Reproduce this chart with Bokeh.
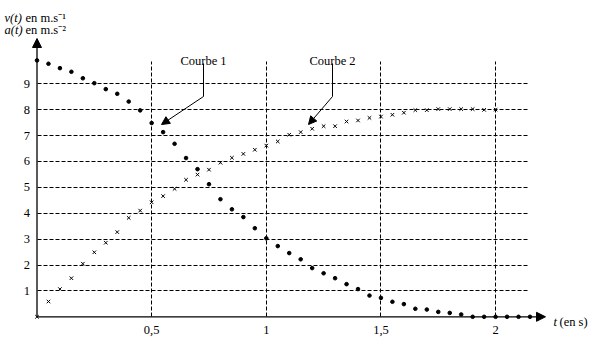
from bokeh.plotting import figure
from bokeh.models import FixedTicker, Label, Arrow, NormalHead, Range1d, Grid
from bokeh.core.properties import value
from bokeh.embed import file_html
from bokeh.resources import INLINE

# ---- data ----
t_v = [0.0, 0.05, 0.1, 0.15, 0.2, 0.25, 0.3, 0.35, 0.4, 0.45,
       0.5, 0.55, 0.6, 0.65, 0.7, 0.75, 0.8, 0.85, 0.9, 0.95,
       1.0, 1.05, 1.1, 1.15, 1.2, 1.25, 1.3, 1.35, 1.4, 1.45,
       1.5, 1.55, 1.6, 1.65, 1.7, 1.75, 1.8, 1.85, 1.9, 1.95,
       2.0, 2.05, 2.1, 2.15]
v = [9.90, 9.77, 9.60, 9.46, 9.21, 9.02, 8.79, 8.61, 8.31, 7.97,
     7.48, 7.13, 6.68, 6.13, 5.70, 5.12, 4.54, 4.15, 3.85, 3.42,
     3.03, 2.73, 2.46, 2.22, 1.88, 1.68, 1.49, 1.26, 1.07, 0.82,
     0.73, 0.58, 0.49, 0.31, 0.28, 0.19, 0.15, 0.09, 0.0, 0.0,
     0.0, 0.0, 0.0, 0.0]
t_a = [0.0, 0.05, 0.1, 0.15, 0.2, 0.25, 0.3, 0.35, 0.4, 0.45,
       0.5, 0.55, 0.6, 0.65, 0.7, 0.75, 0.8, 0.85, 0.9, 0.95,
       1.0, 1.05, 1.1, 1.15, 1.2, 1.25, 1.3, 1.35, 1.4, 1.45,
       1.5, 1.55, 1.6, 1.65, 1.7, 1.75, 1.8, 1.85, 1.9, 1.95, 2.0]
a = [0.0, 0.59, 1.07, 1.49, 2.05, 2.49, 2.86, 3.27, 3.82, 4.10,
     4.42, 4.66, 4.94, 5.29, 5.49, 5.68, 5.95, 6.14, 6.29, 6.45,
     6.61, 6.77, 7.03, 7.13, 7.26, 7.36, 7.36, 7.54, 7.58, 7.68,
     7.73, 7.80, 7.88, 7.98, 7.98, 8.02, 8.02, 8.02, 8.02, 7.99, 8.00]

x_ticks = [0.5, 1, 1.5, 2]
x_tick_labels = ["0,5", "1", "1,5", "2"]
y_ticks = [1, 2, 3, 4, 5, 6, 7, 8, 9]
y_tick_labels = ["1", "2", "3", "4", "5", "6", "7", "8", "9"]

FONT = "Liberation Serif"
FS = "12.5px"

# pixel geometry helpers (screen px -> data)
PX_T, X0 = 229.3, 36.5
PX_V, Y0 = 25.9, 316.3
def dx(px):
    return (px - X0) / PX_T
def dy(py):
    return (Y0 - py) / PX_V

p = figure(width=592, height=337, output_backend="svg", toolbar_location=None,
           x_range=Range1d(dx(0), dx(592)), y_range=Range1d(dy(337), dy(0)),
           x_axis_location=None, y_axis_location=None, min_border=0)
p.outline_line_color = None
p.background_fill_color = "white"
p.border_fill_color = "white"
for g in list(p.center):
    if isinstance(g, Grid):
        p.center.remove(g)

# dashed grid
gx = Grid(dimension=0, ticker=FixedTicker(ticks=x_ticks), cross_bounds=(0, dy(60.5)))
gy = Grid(dimension=1, ticker=FixedTicker(ticks=y_ticks), cross_bounds=(0, dx(528)))
for g in (gx, gy):
    g.grid_line_color = "black"
    g.grid_line_dash = "4 2"
    g.grid_line_width = 1
    p.add_layout(g, "center")

# tick labels
p.text(x=x_ticks, y=[dy(329.5)] * len(x_ticks), text=x_tick_labels, text_align="center",
       text_baseline="middle", text_font=value(FONT), text_font_size=FS, text_color="black")
p.text(x=[dx(29.5)] * len(y_ticks), y=y_ticks, text=y_tick_labels, text_align="right",
       text_baseline="middle", text_font=value(FONT), text_font_size=FS, text_color="black")

# axis arrows
p.add_layout(Arrow(x_start=0, y_start=0, x_end=0, y_end=dy(38), line_width=1.3, line_color="black",
                   end=NormalHead(size=9, fill_color="black", line_color="black")))
p.add_layout(Arrow(x_start=0, y_start=0, x_end=dx(545), y_end=0, line_width=1.3, line_color="black",
                   end=NormalHead(size=9, fill_color="black", line_color="black")))

# data
p.scatter(t_v, v, marker="circle", size=3.6, color="black")
p.scatter(t_a, a, marker="x", size=5, line_color="black", line_width=1)

# curve annotations
for name, cx, tip in (("Courbe 1", 203, (161, 124)), ("Courbe 2", 332, (308, 124))):
    p.add_layout(Label(x=dx(cx), y=dy(60), text=name, text_align="center", text_baseline="alphabetic",
                       text_font=FONT, text_font_size=FS, text_color="black"))
    p.segment(x0=[dx(cx)], y0=[dy(63)], x1=[dx(cx)], y1=[dy(96)], line_color="black", line_width=1)
    p.add_layout(Arrow(x_start=dx(cx), y_start=dy(96), x_end=dx(tip[0]), y_end=dy(tip[1]),
                       line_width=1, line_color="black",
                       end=NormalHead(size=8, fill_color="black", line_color="black")))

# axis titles
def lab(px, py, text, style="normal"):
    p.add_layout(Label(x=dx(px), y=dy(py), text=text, text_align="left", text_baseline="alphabetic",
                       text_font=FONT, text_font_size=FS, text_font_style=style, text_color="black"))

lab(4, 17, "v(t)", "italic")
lab(25, 17, "en m.s\u207b\u00b9")
lab(4, 29, "a(t)", "italic")
lab(25, 29, "en m.s\u207b\u00b2")
lab(553, 321, "t", "italic")
lab(559, 321, "(en s)")

open("out.html", "w").write(file_html(p, INLINE))
